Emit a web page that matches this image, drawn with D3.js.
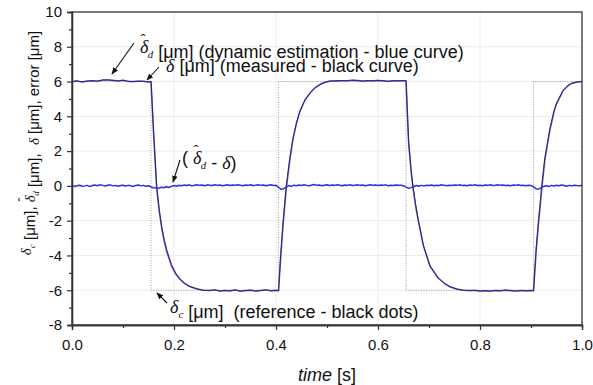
<!DOCTYPE html>
<html><head><meta charset="utf-8">
<script src="https://cdn.jsdelivr.net/npm/d3@7"></script>
<style>
body{margin:0;background:#fff}
svg{display:block}
text{font-family:"Liberation Sans",Arial,sans-serif;fill:#111}
</style>
</head><body>
<svg id="chart" width="593" height="385"></svg>
<script>
// ---------------- data ----------------
const xTicks = [0.0, 0.2, 0.4, 0.6, 0.8, 1.0];
const xMinorTicks = [0.1, 0.3, 0.5, 0.7, 0.9];
const yTicks = [-8, -6, -4, -2, 0, 2, 4, 6, 8, 10];
const yMinorTicks = [-7, -5, -3, -1, 1, 3, 5, 7, 9];

// reference square wave delta_c (switch times, levels)
const refTimes  = [0, 0.155, 0.155, 0.405, 0.405, 0.655, 0.655, 0.905, 0.905, 1.0];
const refValues = [6, 6, -6, -6, 6, 6, -6, -6, 6, 6];

// measured delta (black curve) [time, value]
const measured = [
 [0,6.00],[0.01,6.03],[0.02,5.98],[0.03,6.02],[0.04,6.05],[0.05,6.03],[0.06,6.08],[0.07,6.10],[0.08,6.06],[0.09,6.04],
 [0.10,6.07],[0.11,6.02],[0.12,5.99],[0.13,6.03],[0.14,6.01],[0.15,5.98],[0.155,6.00],
 [0.160,3.1],[0.166,0.0],[0.171,-1.35],[0.176,-2.35],[0.181,-3.1],[0.186,-3.7],[0.195,-4.5],[0.203,-5.0],[0.212,-5.35],
 [0.221,-5.6],[0.231,-5.78],[0.244,-5.92],[0.257,-6.0],
 [0.27,-6.02],[0.28,-5.97],[0.29,-6.05],[0.30,-6.01],[0.31,-6.04],[0.32,-5.98],[0.33,-6.06],[0.34,-6.03],[0.35,-5.99],
 [0.36,-6.05],[0.37,-6.02],[0.38,-5.97],[0.39,-6.04],[0.40,-6.01],[0.405,-6.03],
 [0.409,-4.0],[0.414,-2.0],[0.420,0.0],[0.427,1.6],[0.433,2.7],[0.440,3.6],[0.447,4.3],[0.457,4.95],[0.467,5.35],
 [0.476,5.62],[0.486,5.82],[0.496,5.95],[0.506,6.02],
 [0.52,6.03],[0.53,6.06],[0.54,6.04],[0.55,6.08],[0.56,6.05],[0.57,6.02],[0.58,6.06],[0.59,6.03],[0.60,6.07],
 [0.61,6.04],[0.62,6.01],[0.63,6.05],[0.64,6.03],[0.65,6.06],[0.655,6.04],
 [0.660,2.6],[0.665,0.9],[0.669,-0.1],[0.674,-1.1],[0.679,-1.95],[0.689,-3.4],[0.702,-4.6],[0.718,-5.3],[0.730,-5.6],
 [0.741,-5.8],[0.754,-5.93],[0.767,-6.0],
 [0.78,-6.03],[0.79,-6.0],[0.80,-6.05],[0.81,-6.02],[0.82,-6.06],[0.83,-6.01],[0.84,-6.04],[0.85,-5.99],[0.86,-6.03],
 [0.87,-6.05],[0.88,-6.01],[0.89,-6.04],[0.90,-6.02],[0.905,-6.03],
 [0.910,-3.6],[0.914,-2.2],[0.921,0.0],[0.927,1.6],[0.937,3.3],[0.945,4.3],[0.950,4.75],[0.963,5.5],[0.972,5.75],
 [0.980,5.9],[0.992,5.98],[1.0,6.0]
];

// dynamic estimation (blue curve) [time, value]
const estimated = [
 [0,5.99],[0.01,6.04],[0.02,5.97],[0.03,6.03],[0.04,6.04],[0.05,6.02],[0.06,6.09],[0.07,6.09],[0.08,6.07],[0.09,6.03],
 [0.10,6.08],[0.11,6.01],[0.12,6.00],[0.13,6.02],[0.14,6.02],[0.15,5.97],[0.155,6.00],
 [0.160,3.0],[0.166,-0.1],[0.171,-1.45],[0.176,-2.45],[0.181,-3.2],[0.186,-3.8],[0.195,-4.6],[0.203,-5.05],[0.212,-5.38],
 [0.221,-5.62],[0.231,-5.79],[0.244,-5.92],[0.257,-6.0],
 [0.27,-6.01],[0.28,-5.98],[0.29,-6.04],[0.30,-6.02],[0.31,-6.03],[0.32,-5.99],[0.33,-6.05],[0.34,-6.02],[0.35,-6.00],
 [0.36,-6.04],[0.37,-6.01],[0.38,-5.98],[0.39,-6.03],[0.40,-6.00],[0.405,-6.03],
 [0.409,-4.2],[0.414,-2.2],[0.420,-0.2],[0.427,1.45],[0.433,2.65],[0.440,3.6],[0.447,4.3],[0.457,4.95],[0.467,5.35],
 [0.476,5.63],[0.486,5.83],[0.496,5.96],[0.506,6.03],
 [0.52,6.04],[0.53,6.05],[0.54,6.05],[0.55,6.07],[0.56,6.06],[0.57,6.03],[0.58,6.05],[0.59,6.04],[0.60,6.06],
 [0.61,6.05],[0.62,6.02],[0.63,6.04],[0.64,6.04],[0.65,6.05],[0.655,6.04],
 [0.660,2.5],[0.665,0.8],[0.669,-0.2],[0.674,-1.2],[0.679,-2.0],[0.689,-3.45],[0.702,-4.62],[0.718,-5.3],[0.730,-5.6],
 [0.741,-5.8],[0.754,-5.93],[0.767,-6.0],
 [0.78,-6.02],[0.79,-6.01],[0.80,-6.04],[0.81,-6.03],[0.82,-6.05],[0.83,-6.02],[0.84,-6.03],[0.85,-6.00],[0.86,-6.02],
 [0.87,-6.04],[0.88,-6.02],[0.89,-6.03],[0.90,-6.02],[0.905,-6.03],
 [0.910,-3.8],[0.914,-2.4],[0.921,-0.2],[0.927,1.45],[0.937,3.2],[0.945,4.25],[0.950,4.72],[0.963,5.48],[0.972,5.75],
 [0.980,5.9],[0.992,5.98],[1.0,6.0]
];

// error (estimate - measured), sampled every 5 ms from 0 to 1 s
const errorStep = 0.005;
const errorValues = [
 0.02,-0.03,0.01,0.04,-0.02,0.00,0.03,-0.04,0.02,0.05,
 0.01,0.07,0.03,-0.01,0.04,0.06,0.00,0.03,-0.02,0.02,
 0.04,-0.01,0.03,0.01,-0.03,0.02,0.05,0.00,0.03,-0.02,
 0.01,-0.06,-0.12,-0.10,-0.14,-0.08,-0.11,-0.05,-0.09,-0.03,
 0.02,-0.02,0.04,0.01,0.05,0.02,0.06,0.00,0.04,0.07,
 0.03,0.05,0.01,0.06,0.04,0.02,0.07,0.03,0.05,0.01,
 0.04,0.06,0.02,0.05,0.03,0.07,0.04,0.01,0.05,0.03,
 0.06,0.02,0.04,0.07,0.03,0.05,0.01,0.04,0.06,0.02,
 0.03,-0.08,-0.20,-0.16,-0.07,0.02,-0.03,0.04,0.01,0.05,
 0.02,0.06,0.03,0.00,0.05,0.08,0.03,0.05,0.01,0.04,
 0.06,0.02,0.05,0.03,0.07,0.04,0.01,0.05,0.03,0.06,
 0.02,0.04,0.06,0.03,0.05,0.01,0.04,0.07,0.03,0.05,
 0.02,0.05,0.03,0.06,0.01,0.04,0.02,0.05,0.03,0.04,
 0.01,-0.07,-0.14,-0.10,-0.04,0.02,-0.02,0.03,0.00,0.04,
 0.02,0.05,0.01,0.04,0.02,0.06,0.03,0.01,0.04,0.02,
 0.05,0.03,0.06,0.02,0.04,0.01,0.05,0.03,0.06,0.02,
 0.04,0.01,0.05,0.03,0.06,0.02,0.04,0.07,0.03,0.05,
 0.02,0.04,0.01,0.05,0.03,0.06,0.02,0.04,0.01,0.03,
 0.02,-0.06,-0.17,-0.19,-0.10,-0.03,0.01,-0.04,0.03,-0.01,
 0.04,0.01,0.05,0.02,-0.02,0.03,0.00,0.04,0.02,0.01,
 0.03
];

// ---------------- drawing ----------------
const svg = d3.select("#chart");
const L = 72, R = 582, T = 12, B = 325;
const x = d3.scaleLinear().domain([0, 1]).range([L, R]);
const y = d3.scaleLinear().domain([-8, 10]).range([B, T]);

// faint grid
const grid = svg.append("g").attr("stroke", "#ececec").attr("stroke-width", 1);
xTicks.filter(d => d > 0 && d < 1).forEach(d =>
  grid.append("line").attr("x1", x(d)).attr("x2", x(d)).attr("y1", T).attr("y2", B));
yTicks.filter(d => d > -8 && d < 10).forEach(d =>
  grid.append("line").attr("x1", L).attr("x2", R).attr("y1", y(d)).attr("y2", y(d)));

// reference (gray dotted)
const refData = refTimes.map((t, i) => [t, refValues[i]]);
const line = d3.line().x(d => x(d[0])).y(d => y(d[1]));
svg.append("path").datum(refData).attr("d", line)
  .attr("fill", "none").attr("stroke", "#a0a0a0").attr("stroke-width", 1)
  .attr("stroke-dasharray", "1,1.5");

// estimated (blue)
svg.append("path").datum(estimated).attr("d", line)
  .attr("fill", "none").attr("stroke", "#5555d4").attr("stroke-width", 1.5)
  .attr("stroke-linejoin", "round");
// measured (black)
svg.append("path").datum(measured).attr("d", line)
  .attr("fill", "none").attr("stroke", "#15153a").attr("stroke-width", 1)
  .attr("stroke-opacity", 0.7).attr("stroke-linejoin", "round");

// error
const errData = errorValues.map((v, i) => [i * errorStep, v]);
svg.append("path").datum(errData).attr("d", line)
  .attr("fill", "none").attr("stroke", "#3030e0").attr("stroke-width", 1.5)
  .attr("stroke-linejoin", "round");

// frame
svg.append("rect").attr("x", L).attr("y", T).attr("width", R - L).attr("height", B - T)
  .attr("fill", "none").attr("stroke", "#333").attr("stroke-width", 1.3);

// axes
const fmtX = d3.format(".1f");
const fmtY = d => String(d);
const gx = svg.append("g").attr("transform", `translate(0,${B})`)
  .call(d3.axisBottom(x).tickValues(xTicks).tickFormat(fmtX).tickSize(5).tickPadding(9));
const gxm = svg.append("g").attr("transform", `translate(0,${B})`)
  .call(d3.axisBottom(x).tickValues(xMinorTicks).tickFormat("").tickSize(3));
const gy = svg.append("g").attr("transform", `translate(${L},0)`)
  .call(d3.axisLeft(y).tickValues(yTicks).tickFormat(fmtY).tickSize(5).tickPadding(5));
const gym = svg.append("g").attr("transform", `translate(${L},0)`)
  .call(d3.axisLeft(y).tickValues(yMinorTicks).tickFormat("").tickSize(3));
[gx, gxm, gy, gym].forEach(g => {
  g.select(".domain").attr("stroke", "#333").attr("stroke-width", 1.3);
  g.selectAll(".tick line").attr("stroke", "#333").attr("stroke-width", 1.2);
  g.selectAll("text").attr("font-size", 15).attr("fill", "#111")
    .attr("font-family", "'Liberation Sans', Arial, sans-serif");
});

// axis titles
const xt = svg.append("text").attr("x", (L + R) / 2).attr("y", 381)
  .attr("text-anchor", "middle").attr("font-size", 18);
xt.append("tspan").attr("font-style", "italic").text("time");
xt.append("tspan").text(" [s]");

const SERIF = "'Liberation Serif','Times New Roman',serif";
function delta(t, sub, hat, fs) {
  t.append("tspan").attr("font-style", "italic").attr("font-family", SERIF).text("δ");
  if (hat) {
    t.append("tspan").attr("dx", -fs * 0.42).attr("dy", -fs * 0.42).attr("font-size", fs * 0.8).text("ˆ");
    t.append("tspan").attr("dx", fs * 0.12).attr("dy", fs * 0.67).attr("font-size", fs * 0.6)
      .attr("font-style", "italic").attr("font-family", SERIF).text(sub);
    t.append("tspan").attr("dy", -fs * 0.25).attr("font-size", fs).text("");
  } else if (sub) {
    t.append("tspan").attr("dy", fs * 0.25).attr("font-size", fs * 0.6)
      .attr("font-style", "italic").attr("font-family", SERIF).text(sub);
    t.append("tspan").attr("dy", -fs * 0.25).text("");
  }
}

const yt = svg.append("text").attr("transform", "translate(31,143) rotate(-90)")
  .attr("text-anchor", "middle").attr("font-size", 15);
delta(yt, "c", false, 15);
yt.append("tspan").text(" [μm], ");
delta(yt, "d", true, 15);
yt.append("tspan").text(" [μm],\u00a0 ");
delta(yt, "", false, 15);
yt.append("tspan").text(" [μm], error [μm]");

// annotations
const fsA = 18;
const a1 = svg.append("text").attr("x", 140).attr("y", 53).attr("font-size", fsA);
delta(a1, "d", true, fsA);
a1.append("tspan").text(" [μm] (dynamic estimation - blue curve)");

const a2 = svg.append("text").attr("x", 166).attr("y", 72).attr("font-size", fsA);
delta(a2, "", false, fsA);
a2.append("tspan").text(" [μm] (measured - black curve)");

const a3 = svg.append("text").attr("x", 182).attr("y", 164).attr("font-size", fsA);
a3.append("tspan").text("( ");
delta(a3, "d", true, fsA);
a3.append("tspan").text(" - ");
delta(a3, "", false, fsA);
a3.append("tspan").text(")");

const a4 = svg.append("text").attr("x", 170).attr("y", 313).attr("font-size", fsA);
delta(a4, "c", false, fsA);
a4.append("tspan").text(" [μm]\u00a0 (reference - black dots)");

// arrows
const defs = svg.append("defs");
defs.append("marker").attr("id", "ah").attr("viewBox", "0 0 10 10")
  .attr("refX", 9).attr("refY", 5).attr("markerWidth", 7).attr("markerHeight", 7)
  .attr("markerUnits", "userSpaceOnUse").attr("orient", "auto")
  .append("path").attr("d", "M0,1 L10,5 L0,9 Z").attr("fill", "#111");
const arrows = [
  [134, 43, 112, 74],
  [159, 67, 147, 80],
  [180, 160, 173, 182],
  [167, 303, 157, 293]
];
arrows.forEach(a => svg.append("line")
  .attr("x1", a[0]).attr("y1", a[1]).attr("x2", a[2]).attr("y2", a[3])
  .attr("stroke", "#111").attr("stroke-width", 1.1).attr("marker-end", "url(#ah)"));
</script>
</body></html>
